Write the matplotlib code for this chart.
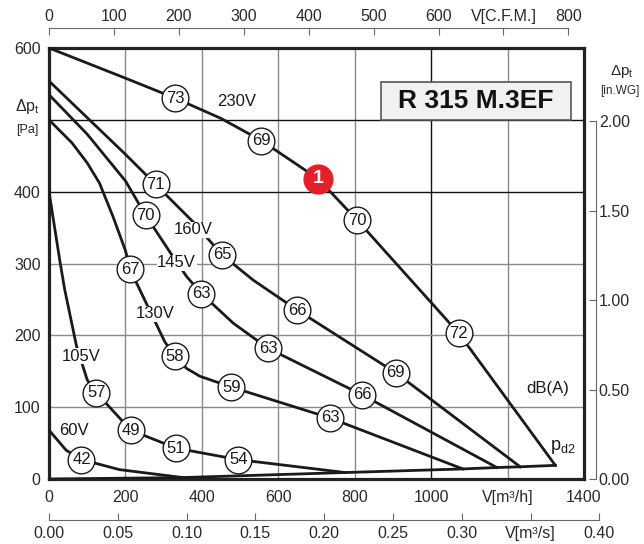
import matplotlib.pyplot as plt
from matplotlib.patches import Rectangle

plt.rcParams['font.family'] = ['Liberation Sans', 'DejaVu Sans']
plt.rcParams['mathtext.fontset'] = 'custom'
plt.rcParams['mathtext.rm'] = 'Liberation Sans'
plt.rcParams['mathtext.it'] = 'Liberation Sans'

# fan curves, flow V [m3/h] vs total pressure [Pa]
x_230 = [0, 200, 331, 450, 556, 704, 807, 1072, 1325]
y_230 = [600, 558, 530, 502, 471, 418, 360, 203, 19]
x_160 = [0, 100, 200, 279, 377, 453, 534, 650, 907, 1233]
y_160 = [554, 503, 452, 410, 358, 312, 277, 235, 148, 17]
x_145 = [0, 100, 200, 253, 320, 360, 399, 482, 573, 820, 1172]
y_145 = [535, 480, 415, 367, 313, 282, 258, 217, 182, 117, 16]
x_130 = [0, 60, 100, 132, 167, 200, 213, 229, 303, 329, 360, 395, 477, 735, 1083]
y_130 = [500, 468, 440, 412, 366, 318, 292, 273, 191, 171, 154, 143, 128, 85, 14]
x_105 = [0, 28, 41, 72, 100, 124, 214, 332, 495, 775]
y_105 = [400, 305, 264, 185, 138, 120, 68, 43, 27, 9]
x_60 = [0, 45, 85, 185, 350]
y_60 = [68, 40, 27, 13, 2]
x_pd2 = [0, 350, 775, 1083, 1172, 1233, 1325]
y_pd2 = [0, 2, 9, 14, 16, 17, 19]

# sound levels dB(A) on the curves
db_x = [331, 556, 807, 1072, 279, 453, 650, 907, 253, 399, 573, 820,
        213, 329, 477, 735, 124, 214, 332, 495, 85]
db_y = [530, 471, 360, 203, 410, 312, 235, 148, 367, 258, 182, 117,
        292, 171, 128, 85, 120, 68, 43, 27, 27]
db_val = [73, 69, 70, 72, 71, 65, 66, 69, 70, 63, 63, 66,
          67, 58, 59, 63, 57, 49, 51, 54, 42]

volt_names = ['230V', '160V', '145V', '130V', '105V', '60V']
volt_x = [492, 377, 334, 279, 85, 65]
volt_y = [526, 347, 301, 230, 171, 68]

cfm_ticks = [0, 100, 200, 300, 400, 500, 600, 700, 800]
m3s_ticks = [0.00, 0.05, 0.10, 0.15, 0.20, 0.25, 0.30, 0.35, 0.40]
inwg_ticks = [0.00, 0.50, 1.00, 1.50, 2.00]

W, H = 644, 544


def box(l, t, w, h):
    return [l / W, 1 - (t + h) / H, w / W, h / H]


fig = plt.figure(figsize=(W / 100, H / 100), dpi=100)
ax = fig.add_axes(box(49, 48, 535, 431))
ax.set_xlim(0, 1400)
ax.set_ylim(0, 600)

# grid, some lines darker
for gx in [200, 400, 600, 800, 1000, 1200]:
    ax.axvline(gx, color='#111111' if gx == 1000 else '#8a8a8a', lw=1, zorder=1)
for gy in [100, 200, 300, 400, 500]:
    ax.axhline(gy, color='#111111' if gy >= 400 else '#8a8a8a', lw=1, zorder=1)

for xs, ys in [(x_230, y_230), (x_160, y_160), (x_145, y_145),
               (x_130, y_130), (x_105, y_105), (x_60, y_60), (x_pd2, y_pd2)]:
    ax.plot(xs, ys, color='#1a1a1a', lw=2, zorder=3, solid_joinstyle='round')

ax.scatter(db_x, db_y, s=370, facecolor='white', edgecolor='#1a1a1a',
           linewidth=1, zorder=4)
for x, y, v in zip(db_x, db_y, db_val):
    ax.text(x, y, str(v), ha='center', va='center', fontsize=12,
            color='#1a1a1a', zorder=5)

for name, x, y in zip(volt_names, volt_x, volt_y):
    ax.text(x, y, name, ha='center', va='center', fontsize=12, color='#1a1a1a',
            zorder=4, bbox=dict(fc='white', ec='none', pad=0.5))

# operating point
ax.scatter([704], [418], s=430, color='#e2202a', zorder=6)
ax.text(704, 418, '1', ha='center', va='center', fontsize=14,
        fontweight='bold', color='white', zorder=7)

ax.text(1304, 126, 'dB(A)', ha='center', va='center', fontsize=12, color='#1a1a1a')
ax.text(1345, 45, r'$\mathrm{p}_{\mathrm{d2}}$', ha='center', va='center',
        fontsize=13, color='#1a1a1a')

ax.add_patch(Rectangle((870, 500), 496, 52, fc='#f0f1f3', ec='#555555',
                       lw=1.2, zorder=6))
ax.text(1118, 526, 'R 315 M.3EF', ha='center', va='center', fontsize=19,
        fontweight='bold', color='#111111', zorder=7)

ax.set_xticks([0, 200, 400, 600, 800, 1000, 1200, 1400])
ax.set_xticklabels(['0', '200', '400', '600', '800', '1000', 'V[m³/h]', '1400'])
ax.set_yticks([0, 100, 200, 300, 400, 600])
ax.set_yticklabels(['0', '100', '200', '300', '400', '600'])
ax.tick_params(length=0, labelsize=11.5, labelcolor='#2a2a2a')
ax.tick_params(axis='x', pad=8)
ax.tick_params(axis='y', pad=6)
for s in ax.spines.values():
    s.set_linewidth(2.3)
    s.set_color('#222222')

fig.text(27 / W, 1 - 107 / H, r'$\Delta\mathrm{p}_\mathrm{t}$', ha='center',
         va='center', fontsize=11.5, color='#2a2a2a')
fig.text(27 / W, 1 - 130 / H, '[Pa]', ha='center', va='center', fontsize=9,
         color='#2a2a2a')
fig.text(622 / W, 1 - 72 / H, r'$\Delta\mathrm{p}_\mathrm{t}$', ha='center',
         va='center', fontsize=11, color='#2a2a2a')
fig.text(620 / W, 1 - 91 / H, '[in.WG]', ha='center', va='center', fontsize=8.5,
         color='#2a2a2a')

# top axis: C.F.M.
ax_cfm = fig.add_axes(box(49, 28, 800 * 1.699 * 535 / 1400, 0.01))
ax_cfm.set_xlim(0, 800)
ax_cfm.set_yticks([])
ax_cfm.patch.set_visible(False)
for k in ['left', 'right', 'bottom']:
    ax_cfm.spines[k].set_visible(False)
ax_cfm.spines['top'].set_color('#666666')
ax_cfm.xaxis.tick_top()
ax_cfm.set_xticks(cfm_ticks)
ax_cfm.set_xticklabels([str(t) if t != 700 else 'V[C.F.M.]' for t in cfm_ticks])
ax_cfm.tick_params(axis='x', direction='in', length=5, color='#666666',
                   labelsize=11.5, labelcolor='#2a2a2a', pad=3)

# bottom axis: m3/s
ax_m3s = fig.add_axes(box(49, 520, 0.40 * 3600 * 535 / 1400, 0.01))
ax_m3s.set_xlim(0, 0.40)
ax_m3s.set_yticks([])
ax_m3s.patch.set_visible(False)
for k in ['left', 'right', 'top']:
    ax_m3s.spines[k].set_visible(False)
ax_m3s.spines['bottom'].set_color('#666666')
ax_m3s.set_xticks(m3s_ticks)
ax_m3s.set_xticklabels([f'{t:.2f}' if t != 0.35 else 'V[m³/s]' for t in m3s_ticks])
ax_m3s.tick_params(axis='x', direction='in', length=5, color='#666666',
                   labelsize=11.5, labelcolor='#2a2a2a', pad=4)

# right axis: in.WG
top_wg = 479 - 2.0 * 249.09 * 431 / 600
ax_wg = fig.add_axes(box(596, top_wg, 0.01, 479 - top_wg))
ax_wg.set_ylim(0, 2.0)
ax_wg.set_xticks([])
ax_wg.patch.set_visible(False)
for k in ['left', 'top', 'bottom']:
    ax_wg.spines[k].set_visible(False)
ax_wg.spines['right'].set_color('#666666')
ax_wg.yaxis.tick_right()
ax_wg.set_yticks(inwg_ticks)
ax_wg.set_yticklabels([f'{t:.2f}' for t in inwg_ticks])
ax_wg.tick_params(axis='y', direction='in', length=5, color='#666666',
                  labelsize=11.5, labelcolor='#2a2a2a', pad=2)

fig.savefig('out.png', dpi=100)
